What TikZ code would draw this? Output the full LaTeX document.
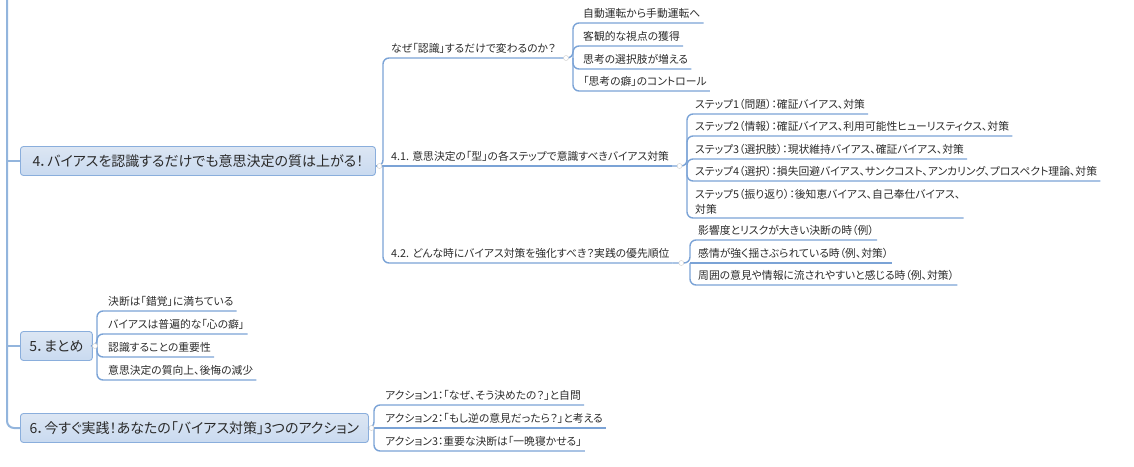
\documentclass[tikz,border=0pt]{standalone}
\usepackage{fontspec}
\setmainfont[RawFeature=+palt]{Noto Sans CJK JP}
\usetikzlibrary{calc}
\definecolor{lineblue}{HTML}{7BA3D6}
\definecolor{trunkblue}{HTML}{93B5DD}
\definecolor{topicfill}{HTML}{DCE6F3}
\definecolor{topicfillb}{HTML}{C9DAF0}
\definecolor{topicborder}{HTML}{8AAEDC}
\definecolor{txt}{HTML}{2B2B2B}
\tikzset{
  topic/.style={draw=topicborder, line width=0.9pt, rounded corners=3pt,
    top color=topicfill, bottom color=topicfillb, text=txt,
    font=\fontsize{14}{16}\selectfont, inner xsep=9pt, anchor=west,
    minimum height=29pt},
  leaf/.style={anchor=south west, inner xsep=3pt, inner ysep=0pt,
    text height=9pt, text depth=5pt, text=txt,
    font=\fontsize{10.8}{15}\selectfont},
  conn/.style={draw=lineblue, line width=1.4pt, rounded corners=6pt},
  trunk/.style={draw=trunkblue, line width=2pt, rounded corners=7pt},
  knob/.style={circle, draw=gray!35, fill=white, line width=0.5pt,
    inner sep=0pt, minimum size=5pt},
}
\begin{document}
\begin{tikzpicture}[x=1pt, y=-1pt]
\useasboundingbox (0,0) rectangle (1134,466);

% topic nodes
\node[topic, minimum width=355pt] (n4) at (20,161) {4．バイアスを認識するだけでも意思決定の質は上がる！};
\node[topic, minimum width=71pt] (n5) at (20,346) {5．まとめ};
\node[topic, minimum width=348pt] (n6) at (20,428) {6．今すぐ実践！あなたの「バイアス対策」3つのアクション};

% trunk
\coordinate (top) at (7,0);
\draw[trunk] (top) |- (n6.west);
\draw[trunk] (n4.west -| top) -- (n4.west);
\draw[trunk] (n5.west -| top) -- (n5.west);

% level 2 under n4
\node[leaf] (w)   at (388,58)  {なぜ「認識」するだけで変わるのか？};
\node[leaf] (c41) at (388,166) {4.1. 意思決定の「型」の各ステップで意識すべきバイアス対策};
\node[leaf] (c42) at (388,263) {4.2. どんな時にバイアス対策を強化すべき？実践の優先順位};
\coordinate (b4) at (383,166);
\draw[conn] (n4.east |- b4) -- (b4) |- (w.south east);
\draw[conn] (n4.east |- b4) -- (c41.south east);
\draw[conn] (b4) |- (c42.south east);

% children of w
\node[leaf] (w1) at (580,23) {自動運転から手動運転へ};
\node[leaf] (w2) at (580,46) {客観的な視点の獲得};
\node[leaf] (w3) at (580,69) {思考の選択肢が増える};
\node[leaf] (w4) at (580,91) {「思考の癖」のコントロール};
\coordinate (bw) at (573,58);
\draw[conn] (w.south east) -- (bw) |- (w1.south east);
\draw[conn] (bw) |- (w2.south east);
\draw[conn] (bw) |- (w3.south east);
\draw[conn] (bw) |- (w4.south east);

% children of 4.1
\node[leaf] (s1) at (692,114) {ステップ1（問題）：確証バイアス、対策};
\node[leaf] (s2) at (692,136) {ステップ2（情報）：確証バイアス、利用可能性ヒューリスティクス、対策};
\node[leaf] (s3) at (692,159) {ステップ3（選択肢）：現状維持バイアス、確証バイアス、対策};
\node[leaf] (s4) at (692,181) {ステップ4（選択）：損失回避バイアス、サンクコスト、アンカリング、プロスペクト理論、対策};
\node[leaf, align=left, text height=9pt, text depth=4pt] (s5) at (692,218) {ステップ5（振り返り）：後知恵バイアス、自己奉仕バイアス、\\対策};
\coordinate (b41) at (687,166);
\draw[conn] (c41.south east) -- (b41) |- (s1.south east);
\draw[conn] (b41) |- (s2.south east);
\draw[conn] (b41) |- (s3.south east);
\draw[conn] (b41) |- (s4.south east);
\draw[conn] (b41) |- (s5.south east);

% children of 4.2
\node[leaf] (p1) at (695,240) {影響度とリスクが大きい決断の時（例）};
\node[leaf] (p2) at (695,263) {感情が強く揺さぶられている時（例、対策）};
\node[leaf] (p3) at (695,285) {周囲の意見や情報に流されやすいと感じる時（例、対策）};
\coordinate (b42) at (690,263);
\draw[conn] (c42.south east) -- (b42) |- (p1.south east);
\draw[conn] (b42) -- (p2.south east);
\draw[conn] (b42) |- (p3.south east);

% children of n5
\node[leaf] (m1) at (105,311) {決断は「錯覚」に満ちている};
\node[leaf] (m2) at (105,334) {バイアスは普遍的な「心の癖」};
\node[leaf] (m3) at (105,357) {認識することの重要性};
\node[leaf] (m4) at (105,380) {意思決定の質向上、後悔の減少};
\coordinate (b5) at (97,346);
\draw[conn] (n5.east) -- (b5) |- (m1.south east);
\draw[conn] (b5) |- (m2.south east);
\draw[conn] (b5) |- (m3.south east);
\draw[conn] (b5) |- (m4.south east);

% children of n6
\node[leaf] (a1) at (382,405) {アクション1：「なぜ、そう決めたの？」と自問};
\node[leaf] (a2) at (382,428) {アクション2：「もし逆の意見だったら？」と考える};
\node[leaf] (a3) at (382,451) {アクション3：重要な決断は「一晩寝かせる」};
\coordinate (b6) at (374,428);
\draw[conn] (n6.east) -- (b6) |- (a1.south east);
\draw[conn] (b6) -- (a2.south east);
\draw[conn] (b6) |- (a3.south east);

% collapse knobs
\node[knob] (k4)  at ($(n4.east |- b4)!0.5!(b4)$) {};
\node[knob] (kw)  at ($(w.south east)!0.5!(bw)$) {};
\node[knob] (k41) at ($(c41.south east)!0.5!(b41)$) {};
\node[knob] (k42) at ($(c42.south east)!0.5!(b42)$) {};
\node[knob] (k5)  at ($(n5.east)!0.5!(b5)$) {};
\node[knob] (k6)  at ($(n6.east)!0.5!(b6)$) {};
\end{tikzpicture}
\end{document}
